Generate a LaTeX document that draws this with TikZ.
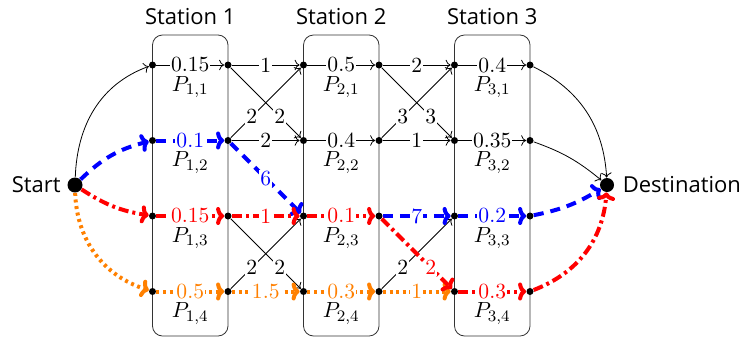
\documentclass[tikz,border=0pt]{standalone}
\usepackage{fontspec}
\setsansfont{Open Sans}
\usetikzlibrary{arrows.meta,positioning}

\begin{document}
\begin{tikzpicture}[
  x=0.5pt, y=0.5pt,
  dot/.style={circle, fill, inner sep=0pt, minimum size=3.5pt},
  term/.style={circle, fill, inner sep=0pt, minimum size=7.5pt},
  station/.style={draw=black!80, rounded corners=5pt, inner sep=0pt,
    minimum width=37.75pt, minimum height=150.5pt},
  title/.style={font=\sffamily\fontsize{11}{13}\selectfont, inner sep=2pt},
  w/.style={fill=white, inner sep=0.5pt, font=\fontsize{10.8}{12}\selectfont},
  plab/.style={yshift=-11pt, inner sep=0pt, text=black, font=\fontsize{11}{13}\selectfont},
  arr/.style={->, thin},
  route/.style={-{To[length=4pt, width=9pt]}, line width=2pt},
  bpath/.style={route, blue, dash pattern=on 5pt off 3.5pt},
  rpath/.style={route, red, dash pattern=on 5pt off 2pt on 1.5pt off 2pt},
  opath/.style={route, orange, dash pattern=on 1.5pt off 1.8pt}
]
\useasboundingbox (0,0) rectangle (742,-338);

% stations
\node[station] (box1) at (190.25,-185.5) {};
\node[station] (box2) at (341.25,-185.5) {};
\node[station] (box3) at (492.25,-185.5) {};
\node[title, above=2.5pt of box1] (st1) {Station 1};
\node[title, above=2.5pt of box2] (st2) {Station 2};
\node[title, above=2.5pt of box3] (st3) {Station 3};

% end points
\node[term] (start) at (75,-185) {};
\node[term, minimum size=7pt] (dest) at (607,-185) {};
\node[title, left=1pt of start] (starttxt) {Start};
\node[title, right=2pt of dest] (desttxt) {Destination};

% points in and out of each station
\node[dot] (in11) at (152.5,-65) {};
\node[dot] (out11) at (228,-65) {};
\node[dot] (in12) at (152.5,-140.5) {};
\node[dot] (out12) at (228,-140.5) {};
\node[dot] (in13) at (152.5,-216) {};
\node[dot] (out13) at (228,-216) {};
\node[dot] (in14) at (152.5,-291.5) {};
\node[dot] (out14) at (228,-291.5) {};
\node[dot] (in21) at (303.5,-65) {};
\node[dot] (out21) at (379,-65) {};
\node[dot] (in22) at (303.5,-140.5) {};
\node[dot] (out22) at (379,-140.5) {};
\node[dot] (in23) at (303.5,-216) {};
\node[dot] (out23) at (379,-216) {};
\node[dot] (in24) at (303.5,-291.5) {};
\node[dot] (out24) at (379,-291.5) {};
\node[dot] (in31) at (454.5,-65) {};
\node[dot] (out31) at (530,-65) {};
\node[dot] (in32) at (454.5,-140.5) {};
\node[dot] (out32) at (530,-140.5) {};
\node[dot] (in33) at (454.5,-216) {};
\node[dot] (out33) at (530,-216) {};
\node[dot] (in34) at (454.5,-291.5) {};
\node[dot] (out34) at (530,-291.5) {};

% plain edges
\draw[arr] (start) to[out=88, in=200] (in11);
\draw[arr] (in11) -- node[w] {0.15} node[plab] {$P_{1,1}$} (out11);
\draw[arr] (out11) -- node[w] {1} (in21);
\draw[arr] (out11) -- node[w, pos=0.7] {2} (in22);
\draw[arr] (out12) -- node[w, pos=0.3] {2} (in21);
\draw[arr] (out12) -- node[w] {2} (in22);
\draw[arr] (out13) -- node[w, pos=0.7] {2} (in24);
\draw[arr] (out14) -- node[w, pos=0.3] {2} (in23);
\draw[arr] (in21) -- node[w] {0.5} node[plab] {$P_{2,1}$} (out21);
\draw[arr] (in22) -- node[w] {0.4} node[plab] {$P_{2,2}$} (out22);
\draw[arr] (out21) -- node[w] {2} (in31);
\draw[arr] (out21) -- node[w, pos=0.7] {3} (in32);
\draw[arr] (out22) -- node[w, pos=0.3] {3} (in31);
\draw[arr] (out22) -- node[w] {1} (in32);
\draw[arr] (out24) -- node[w, pos=0.3] {2} (in33);
\draw[arr] (in31) -- node[w] {0.4} node[plab] {$P_{3,1}$} (out31);
\draw[arr] (in32) -- node[w] {0.35} node[plab] {$P_{3,2}$} (out32);
\draw[arr] (out31) to[bend left=30] (dest);
\draw[arr] (out32) to[bend left=10] (dest);

% orange route
\draw[opath] (start) to[bend right=35] (in14);
\draw[opath] (in14) -- node[w] {0.5} node[plab] {$P_{1,4}$} (out14);
\draw[opath] (out14) -- node[w] {1.5} (in24);
\draw[opath] (in24) -- node[w] {0.3} node[plab] {$P_{2,4}$} (out24);
\draw[opath] (out24) -- node[w] {1} (in34);

% blue route
\draw[bpath] (start) to[bend left=15] (in12);
\draw[bpath] (in12) -- node[w] {0.1} node[plab] {$P_{1,2}$} (out12);
\draw[bpath] (out12) -- node[w] {6} (in23);
\draw[bpath] (out23) -- node[w] {7} (in33);
\draw[bpath] (in33) -- node[w] {0.2} node[plab] {$P_{3,3}$} (out33);
\draw[bpath] (out33) to[bend right=10] (dest);

% red route
\draw[rpath] (start) to[bend right=12] (in13);
\draw[rpath] (in13) -- node[w] {0.15} node[plab] {$P_{1,3}$} (out13);
\draw[rpath] (out13) -- node[w] {1} (in23);
\draw[rpath] (in23) -- node[w] {0.1} node[plab] {$P_{2,3}$} (out23);
\draw[rpath] (out23) -- node[w, pos=0.7] {2} (in34);
\draw[rpath] (in34) -- node[w] {0.3} node[plab] {$P_{3,4}$} (out34);
\draw[rpath] (out34) to[bend right=32] (dest);
\end{tikzpicture}
\end{document}
